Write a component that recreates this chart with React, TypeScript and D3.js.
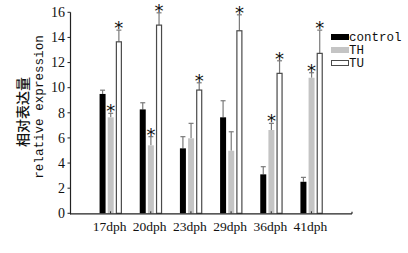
import React from "react";
import * as d3 from "d3";

const categories = ["17dph", "20dph", "23dph", "29dph", "36dph", "41dph"];
const seriesNames = ["control", "TH", "TU"];
const controlValues = [9.5, 8.27, 5.17, 7.64, 3.1, 2.51];
const controlErrors = [0.3, 0.53, 0.93, 1.32, 0.61, 0.35];
const thValues = [7.64, 5.41, 5.97, 4.98, 6.63, 10.79];
const thErrors = [0.32, 0.69, 1.19, 1.51, 0.53, 0.4];
const tuValues = [13.65, 14.98, 9.81, 14.53, 11.14, 12.73];
const tuErrors = [0.93, 0.98, 0.58, 1.27, 1.0, 1.85];
const controlStars = [false, false, false, false, false, false];
const thStars = [true, true, false, false, true, true];
const tuStars = [true, true, true, true, true, true];
const yTicks = [0, 2, 4, 6, 8, 10, 12, 14, 16];

const W = 408;
const H = 253;

export default function App() {
  const y = d3.scaleLinear().domain([0, 16]).range([213.3, 12.3]);
  const x = d3.scalePoint<string>().domain(categories).range([70, 352]).padding(1.01);
  const sub = d3.scalePoint<string>().domain(seriesNames).range([-8, 8.3]);
  const barW = 6;

  const series = [
    { name: "control", values: controlValues, errors: controlErrors, stars: controlStars, fill: "#000", stroke: "none" },
    { name: "TH", values: thValues, errors: thErrors, stars: thStars, fill: "#c4c4c4", stroke: "none" },
    { name: "TU", values: tuValues, errors: tuErrors, stars: tuStars, fill: "#fff", stroke: "#4a4a4a" },
  ];

  const axisColor = "#222";
  const errColor = "#7a7a7a";
  const serif = "'Liberation Serif', 'Times New Roman', serif";
  const mono = "'Liberation Mono', 'DejaVu Sans Mono', monospace";

  return (
    <svg
      width={W}
      height={H}
      style={{ position: "fixed", left: 0, top: 0, background: "#fff", display: "block" }}
    >
      <rect x={0} y={0} width={W} height={H} fill="#fff" />
      {/* bars */}
      {series.map((s) =>
        categories.map((c, i) => {
          const cx = (x(c) as number) + (sub(s.name) as number);
          const top = y(s.values[i]);
          const errTop = y(s.values[i] + s.errors[i]);
          return (
            <g key={s.name + c}>
              <line x1={cx} x2={cx} y1={top} y2={errTop} stroke={errColor} strokeWidth={1.2} />
              <line x1={cx - 2.5} x2={cx + 2.5} y1={errTop} y2={errTop} stroke={errColor} strokeWidth={1.2} />
              {s.stroke === "none" ? (
                <rect x={cx - barW / 2} y={top} width={barW} height={y(0) - top} fill={s.fill} />
              ) : (
                <rect
                  x={cx - barW / 2 + 0.5}
                  y={top}
                  width={barW - 1}
                  height={y(0) - top}
                  fill={s.fill}
                  stroke={s.stroke}
                  strokeWidth={1.2}
                />
              )}
              {s.stars[i] && (
                <text
                  x={cx}
                  y={errTop + 4}
                  textAnchor="middle"
                  fontFamily="'DejaVu Sans', sans-serif"
                  fontSize={18}
                  fill="#111"
                >
                  *
                </text>
              )}
            </g>
          );
        })
      )}
      {/* x axis */}
      <line x1={70} x2={352} y1={y(0) + 0.5} y2={y(0) + 0.5} stroke={axisColor} strokeWidth={1.2} />
      <line x1={352} x2={352} y1={y(0) + 0.5} y2={y(0) - 1.5} stroke={axisColor} strokeWidth={1.2} />
      {categories.map((c) => (
        <g key={c}>
          <line x1={x(c) as number} x2={x(c) as number} y1={y(0)} y2={y(0) - 2} stroke={axisColor} strokeWidth={1} />
          <text x={(x(c) as number) - 1} y={231} textAnchor="middle" fontFamily={serif} fontSize={13.5} fill="#111">
            {c}
          </text>
        </g>
      ))}
      {/* y axis */}
      <line x1={70.5} x2={70.5} y1={y(16)} y2={y(0) + 1} stroke={axisColor} strokeWidth={1.2} />
      {yTicks.map((t) => (
        <g key={t}>
          <line x1={67.5} x2={70.5} y1={y(t)} y2={y(t)} stroke={axisColor} strokeWidth={1} />
          <text x={65} y={y(t) + 4.8} textAnchor="end" fontFamily={serif} fontSize={14} fill="#111">
            {t}
          </text>
        </g>
      ))}
      {/* y label */}
      <text
        transform="translate(28,112) rotate(-90)"
        textAnchor="middle"
        fontFamily="'Noto Sans CJK SC', sans-serif"
        fontSize={14}
        fontWeight={500}
        fill="#111"
      >
        相对表达量
      </text>
      <text
        transform="translate(43,107) rotate(-90)"
        textAnchor="middle"
        fontFamily={mono}
        fontSize={12.6}
        fill="#111"
      >
        relative expression
      </text>
      {/* legend */}
      {series.map((s, i) => {
        const cy = 37 + i * 13;
        return (
          <g key={s.name}>
            {s.stroke === "none" ? (
              <rect x={331} y={cy - 3} width={18} height={6} fill={s.fill} />
            ) : (
              <rect x={331.5} y={cy - 2.5} width={17} height={5} fill={s.fill} stroke={s.stroke} strokeWidth={1} />
            )}
            <text x={349} y={cy + 4} fontFamily={mono} fontSize={12.5} fill="#111">
              {s.name}
            </text>
          </g>
        );
      })}
    </svg>
  );
}
